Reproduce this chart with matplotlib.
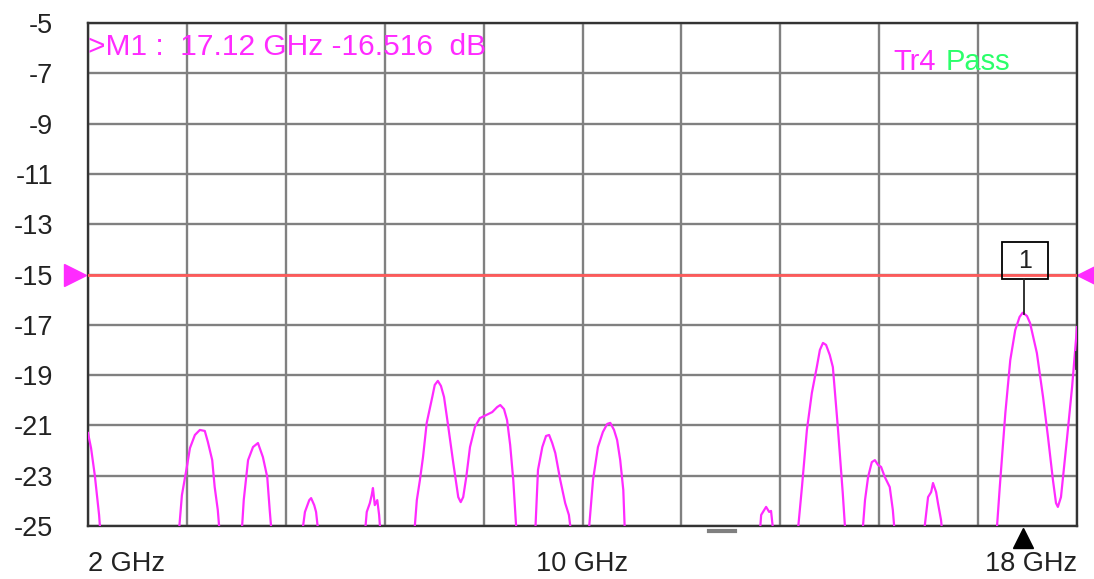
import matplotlib
matplotlib.use("Agg")
import matplotlib.pyplot as plt
from matplotlib.patches import Rectangle
import numpy as np

plt.rcParams['font.family'] = ['Liberation Sans', 'DejaVu Sans']

freq = [2.00, 2.05, 2.11, 2.18, 2.21,
        3.46, 3.52, 3.60, 3.65, 3.73, 3.81, 3.89, 3.94, 4.01, 4.05, 4.10, 4.14,
        4.48, 4.52, 4.59, 4.67, 4.75, 4.83, 4.90, 4.94, 4.98,
        5.45, 5.51, 5.58, 5.61, 5.66, 5.69, 5.74,
        6.47, 6.51, 6.56, 6.59, 6.61, 6.64, 6.68, 6.71, 6.74,
        7.27, 7.32, 7.37, 7.42, 7.48, 7.57, 7.61, 7.66, 7.71, 7.76, 7.82, 7.91,
        7.99, 8.03, 8.07, 8.12, 8.18, 8.26, 8.34, 8.44, 8.54, 8.62, 8.67, 8.73,
        8.78, 8.83, 8.88, 8.92, 8.94,
        9.23, 9.28, 9.35, 9.41, 9.46, 9.51, 9.56, 9.64, 9.72, 9.78, 9.83,
        10.09, 10.17, 10.25, 10.33, 10.40, 10.45, 10.51, 10.56, 10.61, 10.66, 10.69,
        12.86, 12.89, 12.94, 12.97, 13.02, 13.05, 13.10,
        13.47, 13.55, 13.63, 13.71, 13.79, 13.84, 13.89, 13.94, 14.00, 14.05,
        14.13, 14.21, 14.26,
        14.52, 14.57, 14.62, 14.68, 14.73, 14.78, 14.83, 14.89, 14.97, 15.02, 15.06,
        15.51, 15.59, 15.64, 15.67, 15.72, 15.75, 15.80, 15.83,
        16.69, 16.75, 16.84, 16.92, 17.00, 17.07, 17.12, 17.19, 17.24, 17.35,
        17.45, 17.53, 17.61, 17.66, 17.69, 17.74, 17.79, 17.84, 17.92, 18.00]
s11 = [-21.30, -21.90, -22.97, -24.56, -25.56,
       -25.56, -23.77, -22.65, -21.90, -21.38, -21.18, -21.22, -21.66, -22.38, -23.45, -24.36, -25.56,
       -25.56, -23.97, -22.38, -21.86, -21.70, -22.26, -23.05, -24.36, -25.56,
       -25.56, -24.44, -23.97, -23.89, -24.17, -24.44, -25.56,
       -25.56, -24.44, -24.09, -23.77, -23.49, -24.17, -23.97, -24.56, -25.56,
       -25.56, -23.97, -23.17, -22.26, -20.90, -19.87, -19.39, -19.23, -19.43, -19.87, -20.90, -22.50,
       -23.85, -24.05, -23.85, -23.05, -21.86, -21.06, -20.71, -20.59, -20.47, -20.27, -20.19, -20.35,
       -20.79, -21.78, -23.17, -24.76, -25.56,
       -25.56, -22.77, -21.86, -21.42, -21.38, -21.70, -22.10, -23.17, -24.09, -24.56, -25.56,
       -25.56, -23.17, -21.86, -21.26, -20.94, -20.90, -21.18, -21.58, -22.38, -23.57, -25.56,
       -25.56, -24.56, -24.36, -24.24, -24.44, -24.40, -25.56,
       -25.56, -23.45, -21.18, -19.71, -18.68, -18.00, -17.72, -17.80, -18.20, -18.68,
       -21.06, -23.69, -25.56,
       -25.56, -23.97, -23.05, -22.46, -22.38, -22.57, -22.65, -23.05, -23.45, -24.36, -25.56,
       -25.56, -23.85, -23.65, -23.29, -23.65, -24.09, -24.76, -25.56,
       -25.56, -23.45, -20.51, -18.40, -17.21, -16.69, -16.52, -16.65, -16.93, -18.12,
       -19.87, -21.46, -23.17, -24.09, -24.24, -23.85, -22.65, -21.46, -19.47, -17.09]

# short piece of another (dark) trace at the right edge
other_f = [17.99, 17.99]
other_db = [-18.08, -18.72]

limit_db = -15
marker_f = 17.12
marker_db = -16.516
yticks = [-5, -7, -9, -11, -13, -15, -17, -19, -21, -23, -25]
xticks = [2, 10, 18]
xlabels = ["2 GHz", "10 GHz", "18 GHz"]

magenta = '#ff2bff'

fig = plt.figure(figsize=(10.94, 5.79), dpi=100)
ax = fig.add_axes([0.0804, 0.0915, 0.9041, 0.8688])
ax.set_xlim(2, 18)
ax.set_ylim(-25, -5)

ax.set_xticks(np.linspace(2, 18, 11), minor=True)
ax.set_xticks(xticks)
ax.set_xticklabels(xlabels)
ax.set_yticks(yticks)
ax.set_yticklabels([str(v) for v in yticks])
ax.grid(True, which='both', color='#808080', lw=1.7)
ax.tick_params(which='both', length=0, labelsize=19.5, colors='#222222')
ax.tick_params(axis='y', pad=25)
ax.tick_params(axis='x', pad=18)
xl = ax.get_xticklabels()
xl[0].set_ha('left')
xl[2].set_ha('right')
for s in ax.spines.values():
    s.set_color('#333333')
    s.set_linewidth(1.7)
ax.set_axisbelow(True)

# limit line with end arrows
ax.axhline(limit_db, color='#ff5a5a', lw=2, zorder=3)
ax.plot([-0.013], [limit_db], marker='>', ms=16, color=magenta, clip_on=False,
        transform=ax.get_yaxis_transform())
ax.plot([1.011], [limit_db], marker='<', ms=16, color=magenta, clip_on=False,
        transform=ax.get_yaxis_transform())

ax.plot(freq, s11, color=magenta, lw=1.6, zorder=4)
ax.plot(other_f, other_db, color='#333333', lw=2, zorder=4)

# marker 1: box, stem and stimulus arrow
ax.add_patch(Rectangle((16.79, -15.18), 0.744, 1.47, fill=False, ec='black', lw=1.3, zorder=5))
ax.text(16.79 + 0.372, -14.45, '1', ha='center', va='center', fontsize=18, color='#222222', zorder=5)
ax.plot([marker_f + 0.02, marker_f + 0.02], [-15.18, marker_db - 0.05], color='#222222', lw=1.3, zorder=5)
ax.plot([marker_f], [-0.024], marker='^', ms=14, color='black', clip_on=False,
        transform=ax.get_xaxis_transform())
ax.plot([12.05, 12.47], [-0.01, -0.01], color='#808080', lw=3, clip_on=False,
        transform=ax.get_xaxis_transform())

ax.text(0.0, 0.952, '>M1 :  %.2f GHz -%.3f  dB' % (marker_f, -marker_db),
        transform=ax.transAxes, color=magenta, fontsize=21.5, ha='left', va='center')
ax.text(0.814, 0.922, 'Tr4', transform=ax.transAxes, color=magenta, fontsize=21,
        ha='left', va='center')
ax.text(0.8675, 0.922, 'Pass', transform=ax.transAxes, color='#2bff6a', fontsize=21,
        ha='left', va='center')

fig.savefig('out.png', dpi=100)
